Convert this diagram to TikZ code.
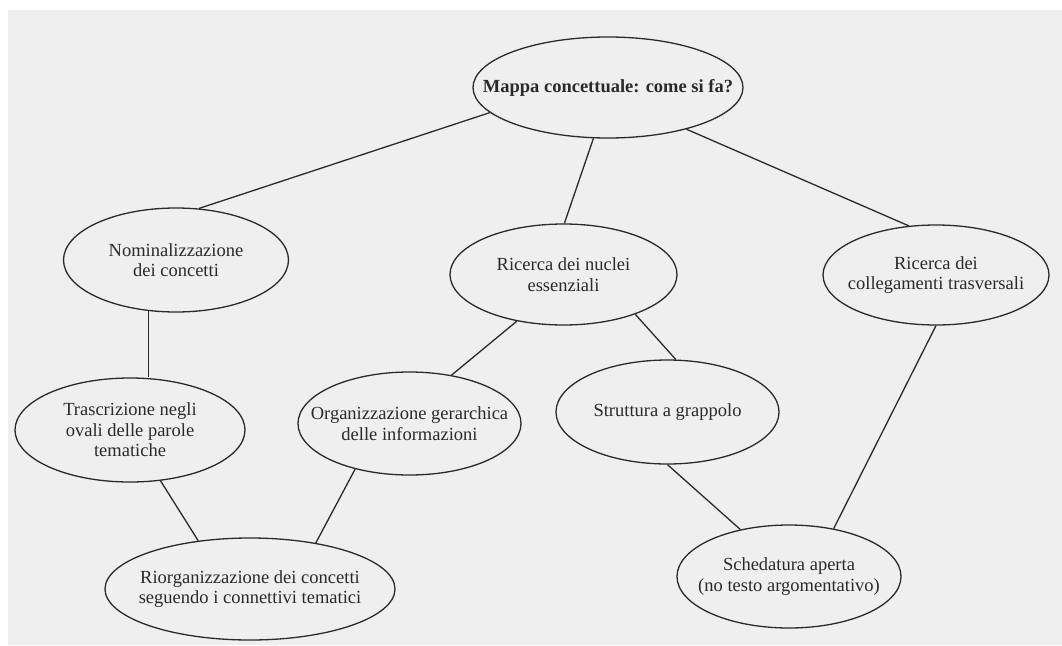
\documentclass[tikz,border=0pt]{standalone}
\usepackage{fontspec}
\setmainfont{Liberation Serif}
\usetikzlibrary{shapes.geometric}

\definecolor{paper}{HTML}{EFEFEF}
\definecolor{ink}{HTML}{2A2A2A}

\tikzset{
  oval/.style={ellipse, draw=ink, line width=1.3pt, inner xsep=-150pt,
    inner ysep=-60pt, align=center, text=ink,
    font=\fontsize{18.5}{20.5}\selectfont},
  link/.style={draw=ink, line width=1.3pt},
}

\begin{document}
\begin{tikzpicture}[x=1pt, y=-1pt]
  % page and paper tone
  \useasboundingbox (0,0) rectangle (1062,645);
  \fill[white] (0,0) rectangle (1062,645);
  \fill[paper] (8,10) rectangle (1062,645);

  % concepts
  \node[oval, minimum width=270pt, minimum height=101pt] (top) at (608,87.5)
    {\bfseries Mappa concettuale: come si fa?};
  \node[oval, minimum width=225pt, minimum height=104pt] (nomin) at (176,260)
    {Nominalizzazione\\dei concetti};
  \node[oval, minimum width=227pt, minimum height=101pt] (nuclei) at (563.5,274.5)
    {Ricerca dei nuclei\\essenziali};
  \node[oval, minimum width=226pt, minimum height=100pt] (coll) at (936,275)
    {Ricerca dei\\collegamenti trasversali};
  \node[oval, minimum width=230pt, minimum height=104pt] (trasc) at (130,430)
    {Trascrizione negli\\ovali delle parole\\tematiche};
  \node[oval, minimum width=223pt, minimum height=103pt] (org) at (409.5,423.5)
    {Organizzazione gerarchica\\delle informazioni};
  \node[oval, minimum width=223pt, minimum height=104pt] (strutt) at (667.5,412)
    {Struttura a grappolo};
  \node[oval, minimum width=290pt, minimum height=102pt] (rior) at (250,589)
    {Riorganizzazione dei concetti\\seguendo i connettivi tematici};
  \node[oval, minimum width=224pt, minimum height=103pt] (sched) at (789,576.5)
    {Schedatura aperta\\(no testo argomentativo)};

  % connections
  \draw[link] (top.192) -- (nomin.66);
  \draw[link] (top.254) -- (nuclei.89);
  \draw[link] (top.332) -- (coll.119);
  \draw[link] (nomin.242) -- (nomin.242 |- trasc.north);
  \draw[link] (nuclei.225) -- (org.49);
  \draw[link] (nuclei.331) -- (strutt.81);
  \draw[link] (trasc.301) -- (rior.137);
  \draw[link] (org.220) -- (rior.35);
  \draw[link] (strutt.270) -- (sched.136);
  \draw[link] (coll.270) -- (sched.47);
\end{tikzpicture}
\end{document}
